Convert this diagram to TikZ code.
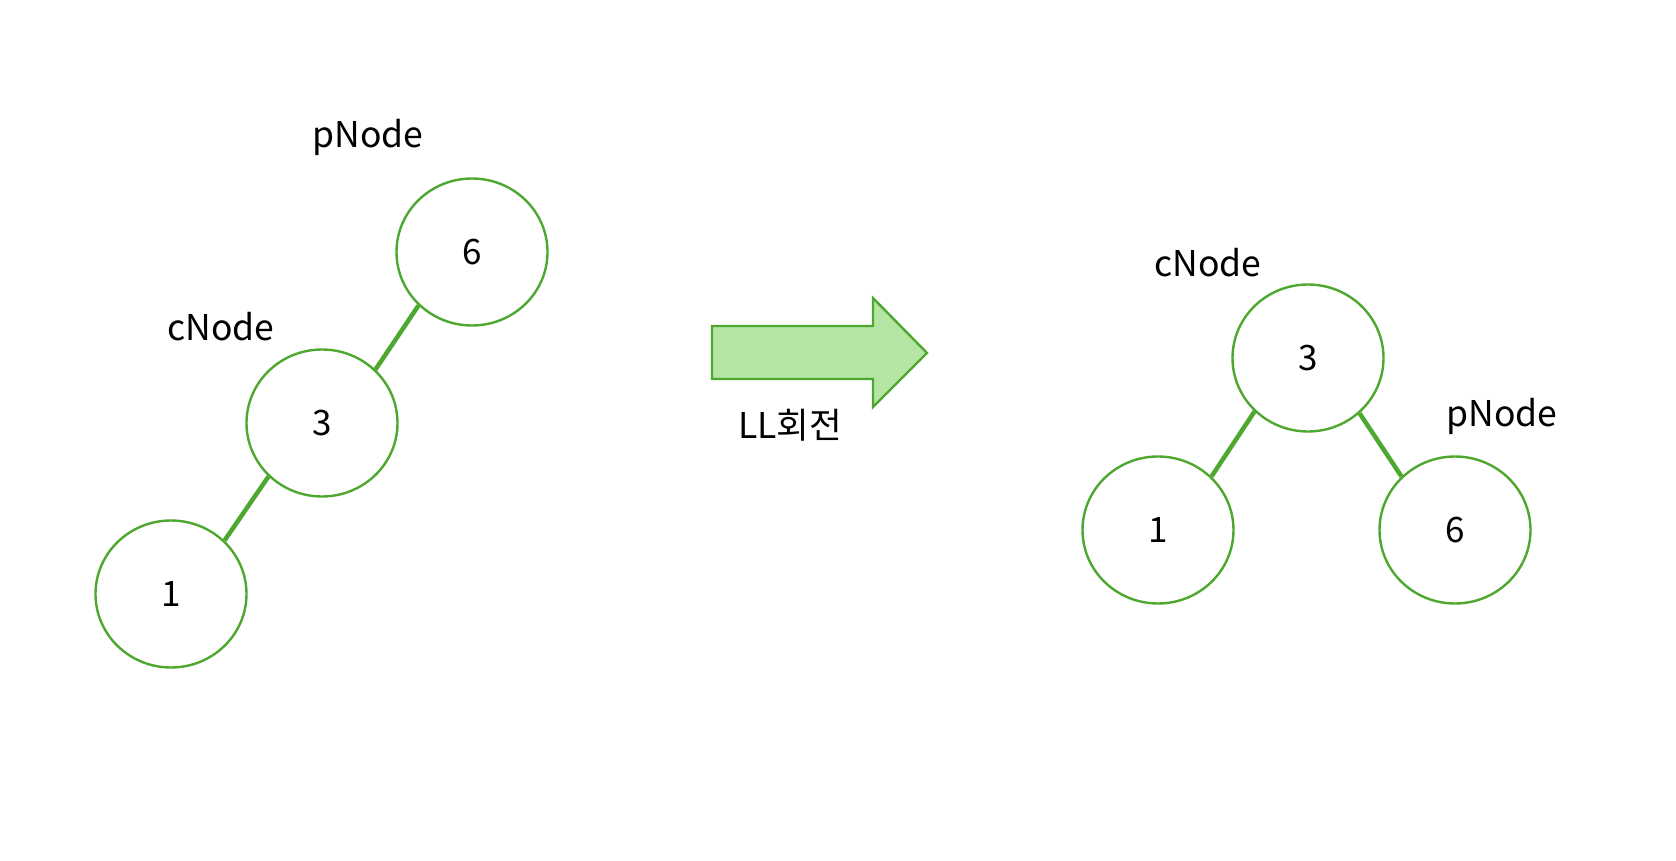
\documentclass[tikz,border=0pt]{standalone}
\usepackage{fontspec}
\setmainfont{Noto Sans CJK KR}
\usetikzlibrary{shapes.geometric}

\definecolor{treegreen}{RGB}{78,167,46}
\definecolor{arrowfill}{RGB}{180,229,162}

\tikzset{
    treenode/.style={ellipse, draw=treegreen, line width=2.4pt, fill=white,
        minimum width=151pt, minimum height=147pt, inner sep=0pt,
        font=\fontsize{35}{40}\selectfont},
    treeedge/.style={draw=treegreen, line width=4.5pt},
    namelabel/.style={font=\fontsize{35.5}{40}\selectfont}
}

\begin{document}
\begin{tikzpicture}[x=1pt, y=-1pt]
    \useasboundingbox (0,0) rectangle (1676,861);

    % Left tree, before the rotation
    \node[treenode] (l6) at (472,252) {6};
    \node[treenode] (l3) at (322,423) {3};
    \node[treenode] (l1) at (171,594) {1};
    \node[namelabel] (lp) at (368,137) {pNode};
    \node[namelabel] (lc) at (221,327) {cNode};

    \draw[treeedge] (l6.225) -- (l3.45);
    \draw[treeedge] (l3.225) -- (l1.45);

    % Arrow
    \draw[draw=treegreen, line width=2.4pt, fill=arrowfill]
        (712,326) -- (873,326) -- (873,298) -- (927,353)
        -- (873,407) -- (873,379) -- (712,379) -- cycle;
    \node[namelabel] (rot) at (790,425) {LL회전};

    % Right tree, after the rotation
    \node[treenode] (r3) at (1308,358) {3};
    \node[treenode] (r1) at (1158,530) {1};
    \node[treenode] (r6) at (1455,530) {6};
    \node[namelabel] (rc) at (1208,263) {cNode};
    \node[namelabel] (rp) at (1502,416) {pNode};

    \draw[treeedge] (r3.225) -- (r1.45);
    \draw[treeedge] (r3.313) -- (r6.135);

\end{tikzpicture}
\end{document}
